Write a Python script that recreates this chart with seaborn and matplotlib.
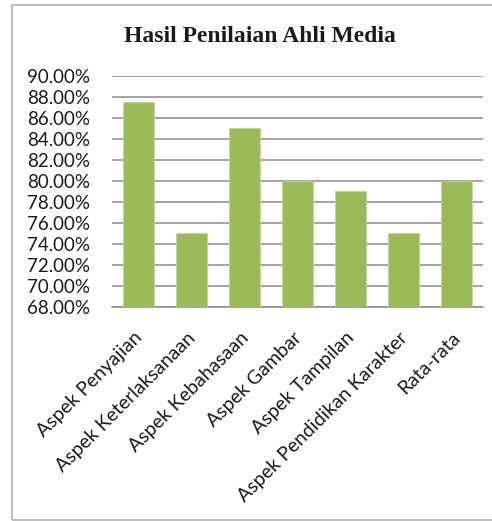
import pandas as pd
import seaborn as sns
import matplotlib.pyplot as plt
from matplotlib.patches import Rectangle
from matplotlib.ticker import FuncFormatter, MultipleLocator
from matplotlib.transforms import ScaledTranslation

aspek = ["Aspek Penyajian", "Aspek Keterlaksanaan", "Aspek Kebahasaan",
         "Aspek Gambar", "Aspek Tampilan", "Aspek Pendidikan Karakter", "Rata-rata"]
nilai = [87.5, 75.0, 85.0, 80.0, 79.0, 75.0, 80.0]

df = pd.DataFrame({"aspek": aspek, "nilai": nilai})

sns.set_style("white")
plt.rcParams["font.family"] = ["Lato", "DejaVu Sans"]

fig = plt.figure(figsize=(4.92, 5.21), dpi=100)
ax = fig.add_axes([112/492, 1 - 306.7/521, (483 - 112)/492, (306.7 - 76)/521])

sns.barplot(data=df, x="aspek", y="nilai", color="#9bbb59", saturation=1,
            width=0.57, ax=ax, zorder=3, edgecolor="#c3d69b", linewidth=0.6)

ax.set_ylim(68, 90)
ax.set_xlim(-0.5, len(aspek) - 0.5)
ax.yaxis.set_major_locator(MultipleLocator(2))
ax.yaxis.set_major_formatter(FuncFormatter(lambda v, p: f"{v:.2f}%"))
ax.grid(axis="y", color="#8c8c8c", linewidth=1.1, zorder=0)
ax.set_axisbelow(True)
for s in ["left", "right", "top"]:
    ax.spines[s].set_visible(False)
ax.spines["bottom"].set_color("#8c8c8c")
ax.spines["bottom"].set_linewidth(1.1)
ax.set_xlabel("")
ax.set_ylabel("")
ax.tick_params(axis="y", length=0, pad=16, labelsize=13.5, labelcolor="#1a1a1a")
ax.tick_params(axis="x", length=0, pad=16, labelsize=14, labelcolor="#1a1a1a")
shift = ScaledTranslation(-5/100, 0, fig.dpi_scale_trans)
for lab in ax.get_xticklabels():
    lab.set_rotation(45)
    lab.set_ha("right")
    lab.set_rotation_mode("anchor")
    lab.set_transform(lab.get_transform() + shift)

fig.text(260/492, 1 - 37/521, "Hasil Penilaian Ahli Media", ha="center", va="center",
         fontsize=17, fontweight="bold", family=["Liberation Serif", "DejaVu Serif"],
         color="#1a1a1a")

fig.patches.append(Rectangle((12/492, 1 - 520/521), 1.2, 515/521, transform=fig.transFigure,
                             fill=False, edgecolor="#bfbfbf", linewidth=1.5))

fig.savefig("out.png", dpi=100)
